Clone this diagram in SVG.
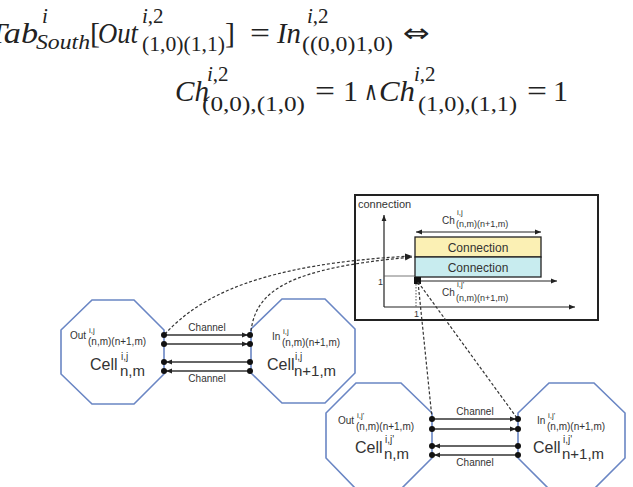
<svg xmlns="http://www.w3.org/2000/svg" width="633" height="487" viewBox="0 0 633 487">
<style>
.m{font-family:"Liberation Serif","Times New Roman",serif;font-size:30px;fill:#222}
.s{font-family:"Liberation Serif","Times New Roman",serif;font-size:21px;fill:#222}
.sym{font-family:"DejaVu Sans",sans-serif;font-size:26px;fill:#222}
.i{font-style:italic}
.oct{fill:#fff;stroke:#6a86c4;stroke-width:1.6}
.lb{font-family:"Liberation Sans",Arial,sans-serif;fill:#333}
.ch{stroke:#333;stroke-width:1.6;fill:none}
.dsh{stroke:#333;stroke-width:1.2;fill:none;stroke-dasharray:3 2}
.ax{stroke:#222;stroke-width:1.2;fill:none}
.dot{fill:#111}
</style>
<defs>
<marker id="arr" viewBox="0 0 10 10" refX="10" refY="5" markerWidth="7" markerHeight="7" markerUnits="userSpaceOnUse" orient="auto-start-reverse"><path d="M0,1 L10,5 L0,9 z" fill="#222"/></marker>
<marker id="arrs" viewBox="0 0 10 10" refX="10" refY="5" markerWidth="6" markerHeight="6" markerUnits="userSpaceOnUse" orient="auto-start-reverse"><path d="M0,1 L10,5 L0,9 z" fill="#222"/></marker>
</defs>
<rect width="633" height="487" fill="#fff"/>

<g id="formula">
<text class="m i" x="-12" y="43" textLength="50" lengthAdjust="spacingAndGlyphs">Tab</text>
<text class="s i" x="42" y="23">i</text>
<text class="s i" x="36" y="49" textLength="54" lengthAdjust="spacingAndGlyphs">South</text>
<text class="m" x="90" y="43">[</text>
<text class="m i" x="98" y="43" textLength="40" lengthAdjust="spacingAndGlyphs">Out</text>
<text class="s" x="142" y="23"><tspan class="i">i</tspan>,2</text>
<text class="s" x="142" y="51" textLength="83" lengthAdjust="spacingAndGlyphs">(1,0)(1,1)</text>
<text class="m" x="225" y="43">]</text>
<text class="m" x="250" y="43" textLength="20" lengthAdjust="spacingAndGlyphs">=</text>
<text class="m i" x="277" y="43" textLength="24" lengthAdjust="spacingAndGlyphs">In</text>
<text class="s" x="307" y="23"><tspan class="i">i</tspan>,2</text>
<text class="s" x="302" y="51" textLength="91" lengthAdjust="spacingAndGlyphs">((0,0)1,0)</text>
<text class="sym" x="403" y="42" textLength="27" lengthAdjust="spacingAndGlyphs">⇔</text>
<text class="m i" x="175" y="101" textLength="34" lengthAdjust="spacingAndGlyphs">Ch</text>
<text class="s" x="207" y="81"><tspan class="i">i</tspan>,2</text>
<text class="s" x="202" y="111" textLength="103" lengthAdjust="spacingAndGlyphs">(0,0),(1,0)</text>
<text class="m" x="315" y="101" textLength="20" lengthAdjust="spacingAndGlyphs">=</text>
<text class="m" x="343" y="101">1</text>
<text class="sym" x="364" y="100" font-size="28" textLength="14" lengthAdjust="spacingAndGlyphs">∧</text>
<text class="m i" x="379" y="101" textLength="36" lengthAdjust="spacingAndGlyphs">Ch</text>
<text class="s" x="414" y="81"><tspan class="i">i</tspan>,2</text>
<text class="s" x="418" y="111" textLength="99" lengthAdjust="spacingAndGlyphs">(1,0),(1,1)</text>
<text class="m" x="527" y="101" textLength="20" lengthAdjust="spacingAndGlyphs">=</text>
<text class="m" x="553" y="101">1</text>
</g>

<g id="box">
<rect x="355" y="195" width="243" height="125" fill="#fff" stroke="#222" stroke-width="2"/>
<text class="lb" x="358" y="208" font-size="11">connection</text>
<line class="ax" x1="384" y1="307" x2="384" y2="215" marker-end="url(#arrs)"/>
<line class="ax" x1="384" y1="307" x2="575" y2="307" marker-end="url(#arrs)"/>
<line x1="384" y1="276" x2="416" y2="276" stroke="#555" stroke-width="0.8"/>
<line x1="416" y1="281" x2="416" y2="307" stroke="#555" stroke-width="1" stroke-dasharray="1.5 1.5"/>
<text class="lb" x="378" y="285" font-size="9">1</text>
<text class="lb" x="414" y="317" font-size="9">1</text>
<rect x="415" y="237" width="126" height="20" fill="#fbf0b4" stroke="#222" stroke-width="1.3"/>
<rect x="415" y="257" width="126" height="20" fill="#c8ecef" stroke="#222" stroke-width="1.3"/>
<text class="lb" x="478" y="252" font-size="12" text-anchor="middle">Connection</text>
<text class="lb" x="478" y="272" font-size="12" text-anchor="middle">Connection</text>
<line class="ax" x1="416" y1="232" x2="541" y2="232" marker-start="url(#arrs)" marker-end="url(#arrs)"/>
<text class="lb" x="442" y="224" font-size="10">Ch</text>
<text class="lb" x="457" y="215" font-size="8">i,j</text>
<text class="lb" x="456" y="227" font-size="9">(n,m)(n+1,m)</text>
<line class="ax" x1="418" y1="281" x2="557" y2="281" marker-end="url(#arrs)"/>
<rect x="414" y="277" width="7" height="7" class="dot"/>
<text class="lb" x="442" y="296" font-size="10">Ch</text>
<text class="lb" x="457" y="287" font-size="8">i,j'</text>
<text class="lb" x="456" y="301" font-size="9">(n,m)(n+1,m)</text>
</g>

<g id="cell1">
<polygon class="oct" points="92,300 134,300 164,330 164,374 134,404 92,404 61,374 61,330"/>
<text class="lb" x="70" y="339" font-size="10">Out</text>
<text class="lb" x="89" y="333" font-size="8">i,j</text>
<text class="lb" x="88" y="345" font-size="10">(n,m)(n+1,m)</text>
<text class="lb" x="90" y="370" font-size="16">Cell</text>
<text class="lb" x="121" y="360" font-size="10">i,j</text>
<text class="lb" x="120" y="376" font-size="15">n,m</text>
</g>

<g id="cell2">
<polygon class="oct" points="282,299 325,299 355,329 355,373 325,403 282,403 251,373 251,329"/>
<text class="lb" x="272" y="340" font-size="10">In</text>
<text class="lb" x="283" y="334" font-size="8">i,j</text>
<text class="lb" x="282" y="346" font-size="10">(n,m)(n+1,m)</text>
<text class="lb" x="267" y="370" font-size="16">Cell</text>
<text class="lb" x="295" y="360" font-size="10">i,j</text>
<text class="lb" x="294" y="376" font-size="15">n+1,m</text>
</g>

<g id="cell3">
<polygon class="oct" points="356,383 401,383 432,413 432,458 401,489 356,489 326,458 326,413"/>
<text class="lb" x="338" y="424" font-size="10">Out</text>
<text class="lb" x="357" y="418" font-size="8">i,j'</text>
<text class="lb" x="356" y="430" font-size="10">(n,m)(n+1,m)</text>
<text class="lb" x="355" y="453" font-size="16">Cell</text>
<text class="lb" x="385" y="443" font-size="10">i,j'</text>
<text class="lb" x="384" y="459" font-size="15">n,m</text>
</g>

<g id="cell4">
<polygon class="oct" points="549,383 594,383 625,413 625,458 594,489 549,489 518,458 518,413"/>
<text class="lb" x="537" y="424" font-size="10">In</text>
<text class="lb" x="548" y="418" font-size="8">i,j'</text>
<text class="lb" x="547" y="430" font-size="10">(n,m)(n+1,m)</text>
<text class="lb" x="533" y="453" font-size="16">Cell</text>
<text class="lb" x="563" y="443" font-size="10">i,j'</text>
<text class="lb" x="562" y="459" font-size="15">n+1,m</text>
</g>

<g id="connectors">
<path class="dsh" d="M165,334 C200,296 260,264 412,256" marker-end="url(#arr)"/>
<path class="dsh" d="M251,331 C256,290 290,268 412,257" marker-end="url(#arr)"/>
<line class="dsh" x1="418" y1="282" x2="432" y2="418"/>
<line class="dsh" x1="418" y1="282" x2="517" y2="418"/>

<text class="lb" x="207" y="331" font-size="10" text-anchor="middle">Channel</text>
<text class="lb" x="207" y="382" font-size="10" text-anchor="middle">Channel</text>
<line class="ch" x1="164" y1="335" x2="248" y2="335" marker-end="url(#arrs)"/>
<line class="ch" x1="164" y1="344" x2="248" y2="344" marker-end="url(#arrs)"/>
<line class="ch" x1="250" y1="362" x2="166" y2="362" marker-end="url(#arrs)"/>
<line class="ch" x1="250" y1="371" x2="166" y2="371" marker-end="url(#arrs)"/>
<g class="dot">
<circle cx="164" cy="335" r="3"/><circle cx="164" cy="344" r="3"/><circle cx="164" cy="362" r="3"/><circle cx="164" cy="371" r="3"/>
<circle cx="250" cy="335" r="3"/><circle cx="250" cy="344" r="3"/><circle cx="250" cy="362" r="3"/><circle cx="250" cy="371" r="3"/>
</g>

<text class="lb" x="475" y="415" font-size="10" text-anchor="middle">Channel</text>
<text class="lb" x="475" y="466" font-size="10" text-anchor="middle">Channel</text>
<line class="ch" x1="432" y1="419" x2="516" y2="419" marker-end="url(#arrs)"/>
<line class="ch" x1="432" y1="429" x2="516" y2="429" marker-end="url(#arrs)"/>
<line class="ch" x1="518" y1="446" x2="434" y2="446" marker-end="url(#arrs)"/>
<line class="ch" x1="518" y1="455" x2="434" y2="455" marker-end="url(#arrs)"/>
<g class="dot">
<circle cx="432" cy="419" r="3"/><circle cx="432" cy="429" r="3"/><circle cx="432" cy="446" r="3"/><circle cx="432" cy="455" r="3"/>
<circle cx="518" cy="419" r="3"/><circle cx="518" cy="429" r="3"/><circle cx="518" cy="446" r="3"/><circle cx="518" cy="455" r="3"/>
</g>
</g>
</svg>
